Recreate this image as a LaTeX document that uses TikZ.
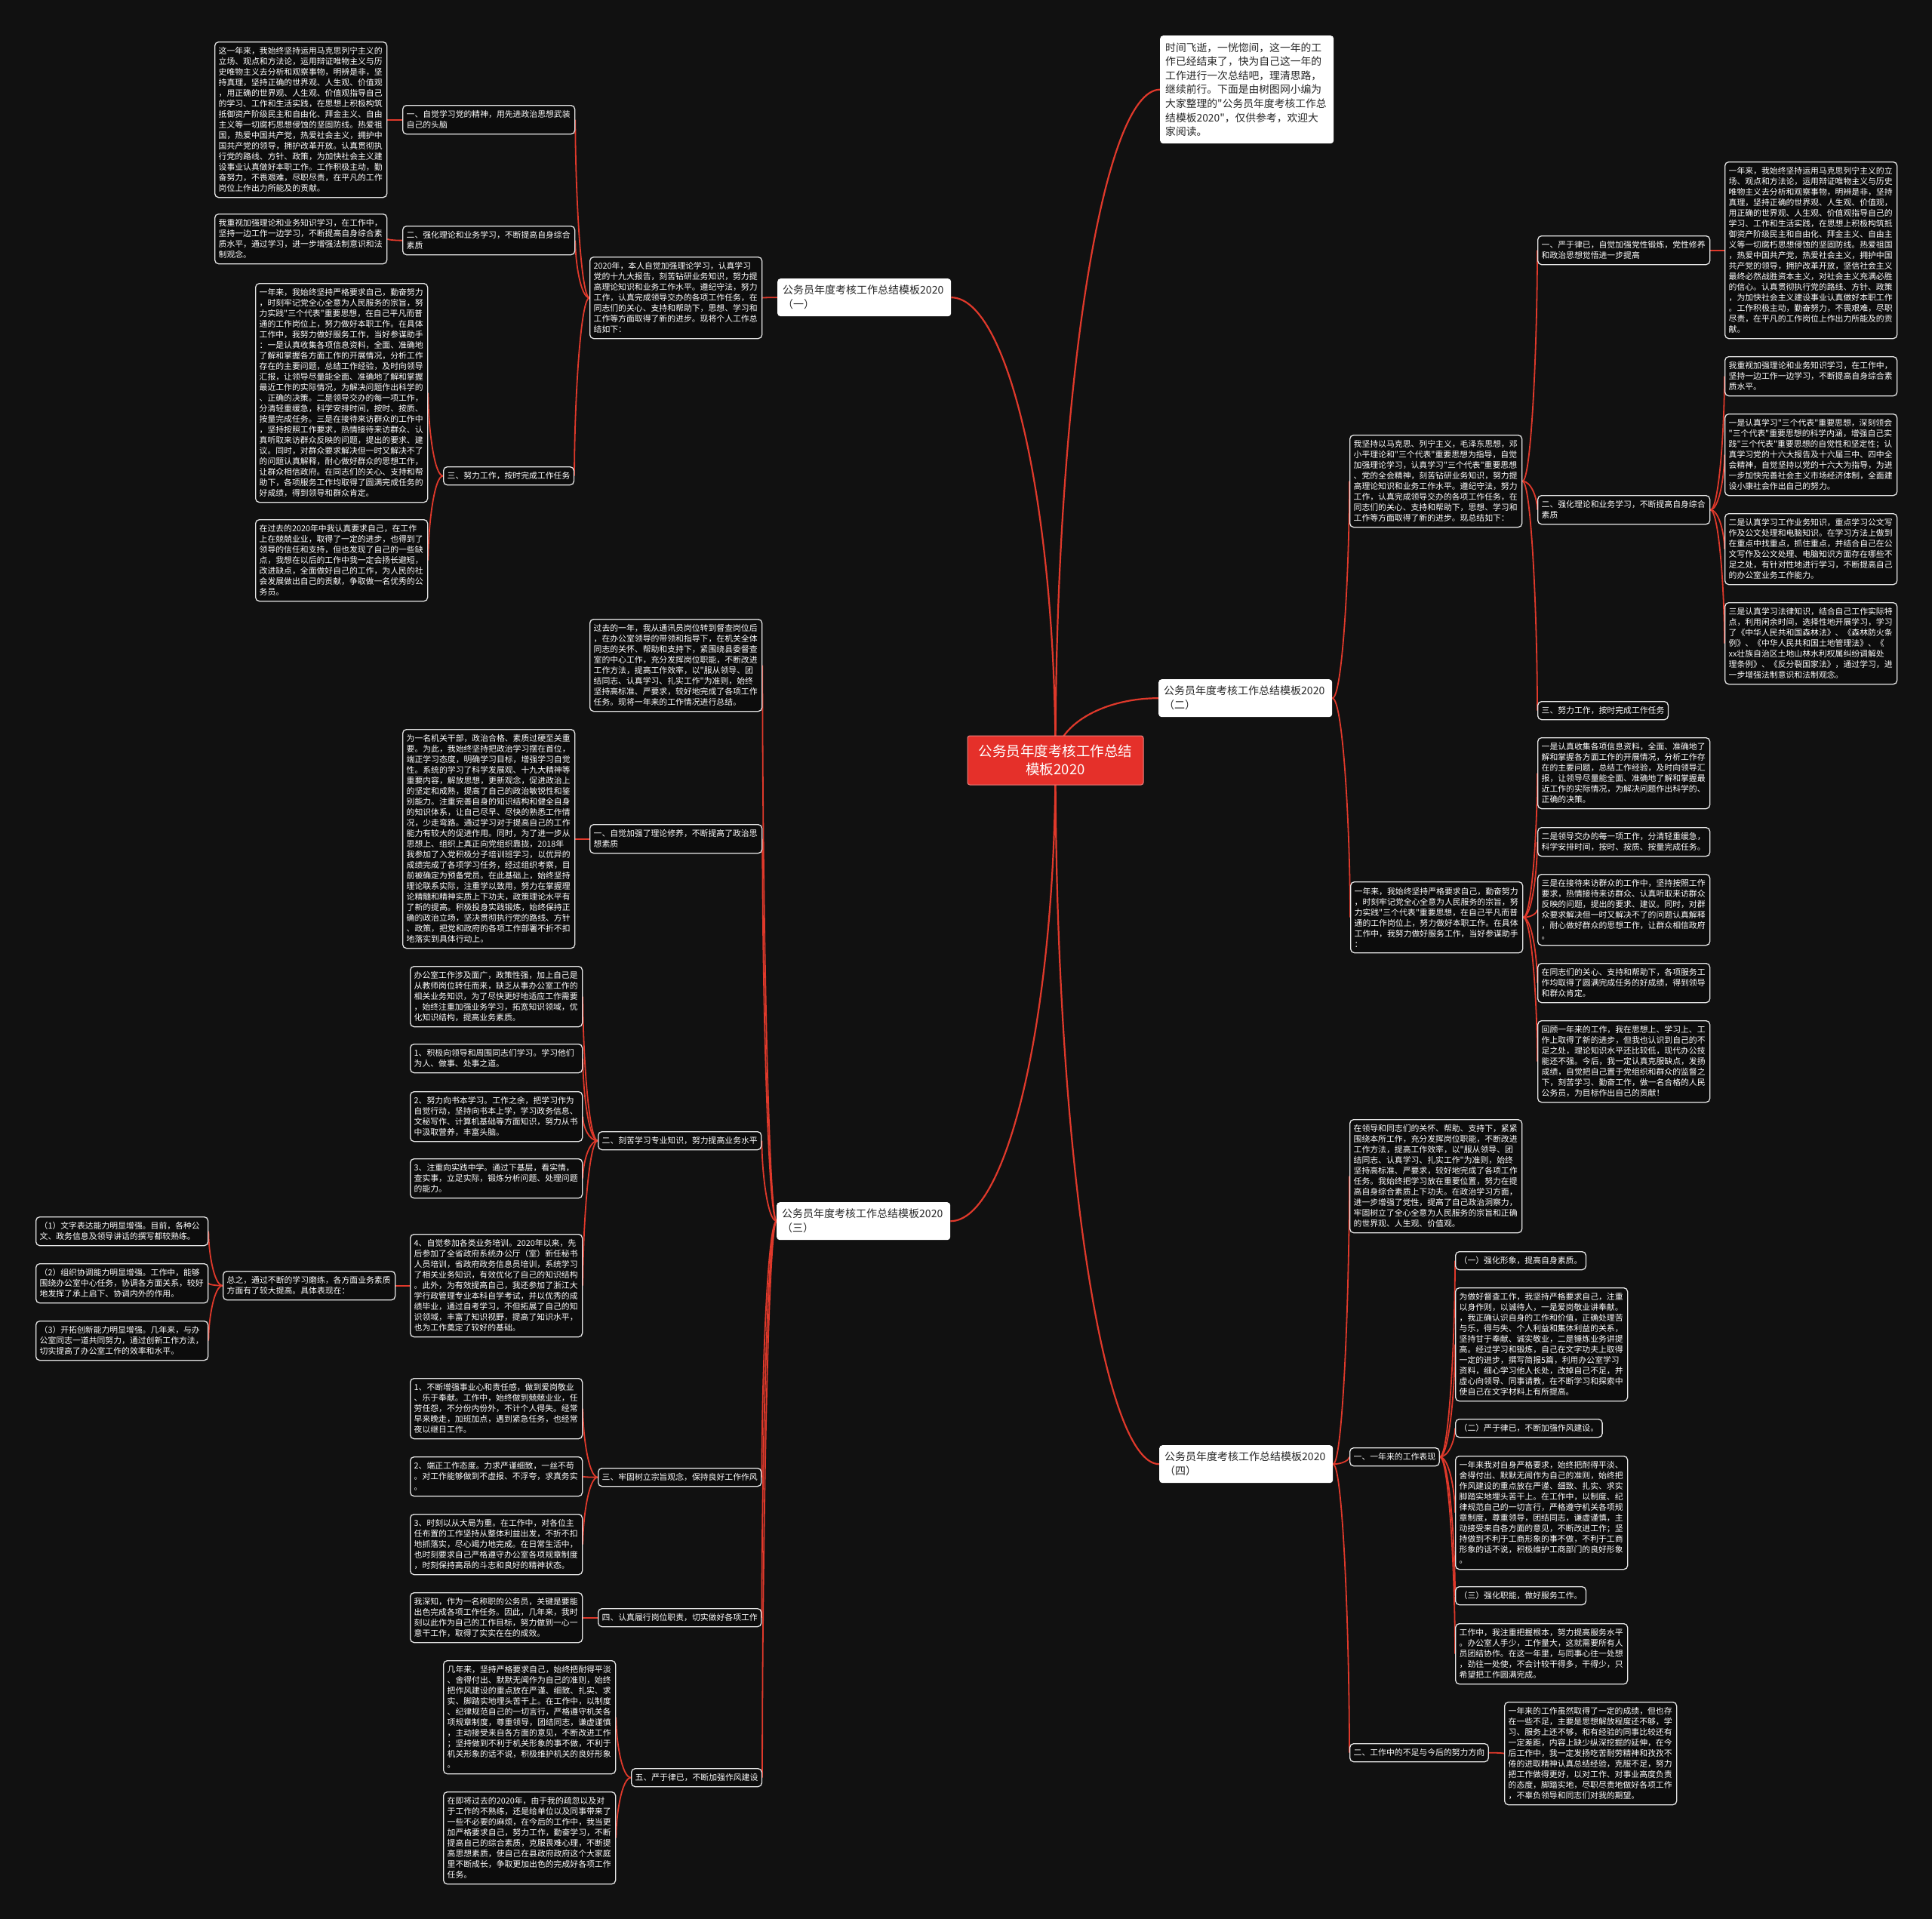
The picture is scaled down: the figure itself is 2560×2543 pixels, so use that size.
\documentclass[tikz,border=0pt]{standalone}
\usepackage{fontspec}
\setmainfont{Noto Sans CJK SC}
\newfontfamily\cjk{Noto Sans CJK SC}
\usetikzlibrary{calc}
\definecolor{bgc}{HTML}{111111}
\definecolor{boxc}{HTML}{0C0C0C}
\definecolor{linec}{HTML}{E0392B}
\definecolor{cent}{HTML}{E5302A}
\pgfdeclarelayer{back}
\pgfsetlayers{back,main}
\tikzset{
 tbox/.style={draw=white!90!black, line width=1.3pt, rounded corners=5pt, fill=boxc, text=white, inner xsep=5pt, inner ysep=3pt, align=left, font=\cjk\fontsize{10.85}{14}\selectfont, anchor=north west},
 wbox/.style={fill=white, rounded corners=4pt, text=black!85, inner xsep=7pt, inner ysep=3pt, align=left, anchor=north west, text width=216pt, minimum height=50pt, font=\cjk\fontsize{14}{19}\selectfont},
 link/.style={draw=linec, line width=1.8pt},
 blink/.style={draw=linec, line width=2.2pt},
}
\newcommand\mkpara[5]{\node[tbox,text width=218pt,minimum height={14*#4+10}] (#1) at (#2,#3) {#5};}
\newcommand\mktitle[4]{\node[tbox,minimum height=24pt] (#1) at (#2,#3) {#4};}
\newcommand\lnk[2]{\draw[link] let \p1=(#1), \p2=(#2) in (\p1) .. controls ({\x1+0.6*(\x2-\x1)},\y1) and (\x2,{\y2+0.4*(\y1-\y2)}) .. (\p2);}
\newcommand\brl[2]{\draw[blink] let \p1=(#1), \p2=(#2) in (\p1) .. controls (\x1,{\y1+0.55*(\y2-\y1)}) and ({\x2+0.55*(\x1-\x2)},\y2) .. (\p2);}
\begin{document}
\begin{tikzpicture}[x=1pt,y=-1pt]
\path[use as bounding box] (0,0) rectangle (2560,2543);
\begin{pgfonlayer}{back}
\fill[bgc] (0,0) rectangle (2560,2543);
\end{pgfonlayer}

% centre and branches
\node[fill=cent, draw=cent!60!white, line width=1pt, rounded corners=3pt, text=white, align=center, minimum width=233pt, minimum height=65pt, inner sep=4pt, font=\cjk\fontsize{18.5}{24.5}\selectfont] (C) at (1398.5,1007.5) {公务员年度考核工作总结\\模板2020};
\node[wbox, minimum height=143pt, font=\cjk\fontsize{13.8}{18.6}\selectfont] (intro) at (1537,47) {时间飞逝，一恍惚间，这一年的工\\作已经结束了，快为自己这一年的\\工作进行一次总结吧，理清思路，\\继续前行。下面是由树图网小编为\\大家整理的"公务员年度考核工作总\\结模板2020"，仅供参考，欢迎大\\家阅读。};
\node[wbox] (B1) at (1030,369) {公务员年度考核工作总结模板2020\\（一）};
\node[wbox] (B2) at (1535,900) {公务员年度考核工作总结模板2020\\（二）};
\node[wbox] (B3) at (1029,1593) {公务员年度考核工作总结模板2020\\（三）};
\node[wbox] (B4) at (1536,1915) {公务员年度考核工作总结模板2020\\（四）};

% ---------- (一)
\mkpara{N0}{781}{340}{7}{2020年，本人自觉加强理论学习，认真学习\\党的十九大报告，刻苦钻研业务知识，努力提\\高理论知识和业务工作水平。遵纪守法，努力\\工作，认真完成领导交办的各项工作任务，在\\同志们的关心、支持和帮助下，思想、学习和\\工作等方面取得了新的进步。现将个人工作总\\结如下：}
\mkpara{N1b}{533}{139}{2}{一、自觉学习党的精神，用先进政治思想武装\\自己的头脑}
\mkpara{N1a}{284}{55}{14}{这一年来，我始终坚持运用马克思列宁主义的\\立场、观点和方法论，运用辩证唯物主义与历\\史唯物主义去分析和观察事物，明辨是非，坚\\持真理，坚持正确的世界观、人生观、价值观\\，用正确的世界观、人生观、价值观指导自己\\的学习、工作和生活实践，在思想上积极构筑\\抵御资产阶级民主和自由化、拜金主义、自由\\主义等一切腐朽思想侵蚀的坚固防线。热爱祖\\国，热爱中国共产党，热爱社会主义，拥护中\\国共产党的领导，拥护改革开放。认真贯彻执\\行党的路线、方针、政策，为加快社会主义建\\设事业认真做好本职工作。工作积极主动，勤\\奋努力，不畏艰难，尽职尽责，在平凡的工作\\岗位上作出力所能及的贡献。}
\mkpara{N2b}{533}{299}{2}{二、强化理论和业务学习，不断提高自身综合\\素质}
\mkpara{N2a}{284}{283}{4}{我重视加强理论和业务知识学习，在工作中，\\坚持一边工作一边学习，不断提高自身综合素\\质水平，通过学习，进一步增强法制意识和法\\制观念。}
\mktitle{N3b}{587}{618}{三、努力工作，按时完成工作任务}
\mkpara{N3a}{338}{375}{20}{一年来，我始终坚持严格要求自己，勤奋努力\\，时刻牢记党全心全意为人民服务的宗旨，努\\力实践"三个代表"重要思想，在自己平凡而普\\通的工作岗位上，努力做好本职工作。在具体\\工作中，我努力做好服务工作，当好参谋助手\\：一是认真收集各项信息资料，全面、准确地\\了解和掌握各方面工作的开展情况，分析工作\\存在的主要问题，总结工作经验，及时向领导\\汇报，让领导尽量能全面、准确地了解和掌握\\最近工作的实际情况，为解决问题作出科学的\\、正确的决策。二是领导交办的每一项工作，\\分清轻重缓急，科学安排时间，按时、按质、\\按量完成任务。三是在接待来访群众的工作中\\，坚持按照工作要求，热情接待来访群众、认\\真听取来访群众反映的问题，提出的要求、建\\议。同时，对群众要求解决但一时又解决不了\\的问题认真解释，耐心做好群众的思想工作，\\让群众相信政府。在同志们的关心、支持和帮\\助下，各项服务工作均取得了圆满完成任务的\\好成绩，得到领导和群众肯定。}
\mkpara{N3c}{338}{688}{7}{在过去的2020年中我认真要求自己，在工作\\上在兢兢业业，取得了一定的进步，也得到了\\领导的信任和支持，但也发现了自己的一些缺\\点，我想在以后的工作中我一定会扬长避短，\\改进缺点，全面做好自己的工作，为人民的社\\会发展做出自己的贡献，争取做一名优秀的公\\务员。}

% ---------- (二)
\mkpara{R0}{1788}{576}{8}{我坚持以马克思、列宁主义，毛泽东思想，邓\\小平理论和"三个代表"重要思想为指导，自觉\\加强理论学习，认真学习"三个代表"重要思想\\、党的全会精神，刻苦钻研业务知识，努力提\\高理论知识和业务工作水平。遵纪守法，努力\\工作，认真完成领导交办的各项工作任务，在\\同志们的关心、支持和帮助下，思想、学习和\\工作等方面取得了新的进步。现总结如下：}
\mkpara{S1}{2037}{312}{2}{一、严于律已，自觉加强党性锻炼，党性修养\\和政治思想觉悟进一步提高}
\mkpara{S2}{2037}{656}{2}{二、强化理论和业务学习，不断提高自身综合\\素质}
\mktitle{S3}{2037}{929}{三、努力工作，按时完成工作任务}
\mkpara{R1}{2285}{214}{16}{一年来，我始终坚持运用马克思列宁主义的立\\场、观点和方法论，运用辩证唯物主义与历史\\唯物主义去分析和观察事物，明辨是非，坚持\\真理，坚持正确的世界观、人生观、价值观，\\用正确的世界观、人生观、价值观指导自己的\\学习、工作和生活实践，在思想上积极构筑抵\\御资产阶级民主和自由化、拜金主义、自由主\\义等一切腐朽思想侵蚀的坚固防线。热爱祖国\\，热爱中国共产党，热爱社会主义，拥护中国\\共产党的领导，拥护改革开放，坚信社会主义\\最终必然战胜资本主义，对社会主义充满必胜\\的信心。认真贯彻执行党的路线、方针、政策\\，为加快社会主义建设事业认真做好本职工作\\。工作积极主动，勤奋努力，不畏艰难，尽职\\尽责，在平凡的工作岗位上作出力所能及的贡\\献。}
\mkpara{R2}{2285}{472}{3}{我重视加强理论和业务知识学习，在工作中，\\坚持一边工作一边学习，不断提高自身综合素\\质水平。}
\mkpara{R3}{2285}{548}{7}{一是认真学习"三个代表"重要思想，深刻领会\\"三个代表"重要思想的科学内涵，增强自己实\\践"三个代表"重要思想的自觉性和坚定性；认\\真学习党的十六大报告及十六届三中、四中全\\会精神，自觉坚持以党的十六大为指导，为进\\一步加快完善社会主义市场经济体制，全面建\\设小康社会作出自己的努力。}
\mkpara{R4}{2285}{680}{6}{二是认真学习工作业务知识，重点学习公文写\\作及公文处理和电脑知识。在学习方法上做到\\在重点中找重点，抓住重点，并结合自己在公\\文写作及公文处理、电脑知识方面存在哪些不\\足之处，有针对性地进行学习，不断提高自己\\的办公室业务工作能力。}
\mkpara{R5}{2285}{798}{7}{三是认真学习法律知识，结合自己工作实际特\\点，利用闲余时间，选择性地开展学习，学习\\了《中华人民共和国森林法》、《森林防火条\\例》、《中华人民共和国土地管理法》、《\\xx壮族自治区土地山林水利权属纠纷调解处\\理条例》、《反分裂国家法》，通过学习，进\\一步增强法制意识和法制观念。}
\mkpara{T0}{1789}{1168}{6}{一年来，我始终坚持严格要求自己，勤奋努力\\，时刻牢记党全心全意为人民服务的宗旨，努\\力实践"三个代表"重要思想，在自己平凡而普\\通的工作岗位上，努力做好本职工作。在具体\\工作中，我努力做好服务工作，当好参谋助手\\：}
\mkpara{U1}{2037}{977}{6}{一是认真收集各项信息资料，全面、准确地了\\解和掌握各方面工作的开展情况，分析工作存\\在的主要问题，总结工作经验，及时向领导汇\\报，让领导尽量能全面、准确地了解和掌握最\\近工作的实际情况，为解决问题作出科学的、\\正确的决策。}
\mkpara{U2}{2037}{1096}{2}{二是领导交办的每一项工作，分清轻重缓急，\\科学安排时间，按时、按质、按量完成任务。}
\mkpara{U3}{2037}{1158}{6}{三是在接待来访群众的工作中，坚持按照工作\\要求，热情接待来访群众、认真听取来访群众\\反映的问题，提出的要求、建议。同时，对群\\众要求解决但一时又解决不了的问题认真解释\\，耐心做好群众的思想工作，让群众相信政府\\。}
\mkpara{U4}{2037}{1276}{3}{在同志们的关心、支持和帮助下，各项服务工\\作均取得了圆满完成任务的好成绩，得到领导\\和群众肯定。}
\mkpara{U5}{2037}{1352}{7}{回顾一年来的工作，我在思想上、学习上、工\\作上取得了新的进步，但我也认识到自己的不\\足之处，理论知识水平还比较低，现代办公技\\能还不强。今后，我一定认真克服缺点，发扬\\成绩，自觉把自己置于党组织和群众的监督之\\下，刻苦学习、勤奋工作，做一名合格的人民\\公务员，为目标作出自己的贡献！}

% ---------- (三)
\mkpara{X0}{781}{820}{8}{过去的一年，我从通讯员岗位转到督查岗位后\\，在办公室领导的带领和指导下，在机关全体\\同志的关怀、帮助和支持下，紧围绕县委督查\\室的中心工作，充分发挥岗位职能，不断改进\\工作方法，提高工作效率，以"服从领导、团\\结同志、认真学习、扎实工作"为准则，始终\\坚持高标准、严要求，较好地完成了各项工作\\任务。现将一年来的工作情况进行总结。}
\mkpara{X1}{781}{1092}{2}{一、自觉加强了理论修养，不断提高了政治思\\想素质}
\mkpara{X1a}{533}{966}{20}{为一名机关干部，政治合格、素质过硬至关重\\要。为此，我始终坚持把政治学习摆在首位，\\端正学习态度，明确学习目标，增强学习自觉\\性。系统的学习了科学发展观、十九大精神等\\重要内容，解放思想，更新观念，促进政治上\\的坚定和成熟，提高了自己的政治敏锐性和鉴\\别能力。注重完善自身的知识结构和健全自身\\的知识体系，让自己尽早、尽快的熟悉工作情\\况，少走弯路。通过学习对于提高自己的工作\\能力有较大的促进作用。同时，为了进一步从\\思想上、组织上真正向党组织靠拢，2018年\\我参加了入党积极分子培训班学习，以优异的\\成绩完成了各项学习任务，经过组织考察，目\\前被确定为预备党员。在此基础上，始终坚持\\理论联系实际，注重学以致用，努力在掌握理\\论精髓和精神实质上下功夫，政策理论水平有\\了新的提高。积极投身实践锻炼，始终保持正\\确的政治立场，坚决贯彻执行党的路线、方针\\、政策，把党和政府的各项工作部署不折不扣\\地落实到具体行动上。}
\mktitle{X2}{792}{1499}{二、刻苦学习专业知识，努力提高业务水平}
\mkpara{X2a}{543}{1280}{5}{办公室工作涉及面广，政策性强，加上自己是\\从教师岗位转任而来，缺乏从事办公室工作的\\相关业务知识，为了尽快更好地适应工作需要\\，始终注重加强业务学习，拓宽知识领域，优\\化知识结构，提高业务素质。}
\mkpara{X2b}{543}{1383}{2}{1、积极向领导和周围同志们学习。学习他们\\为人、做事、处事之道。}
\mkpara{X2c}{543}{1446}{4}{2、努力向书本学习。工作之余，把学习作为\\自觉行动，坚持向书本上学，学习政务信息、\\文秘写作、计算机基础等方面知识，努力从书\\中汲取营养，丰富头脑。}
\mkpara{X2d}{543}{1535}{3}{3、注重向实践中学。通过下基层，看实情，\\查实事，立足实际，锻炼分析问题、处理问题\\的能力。}
\mkpara{X2e}{543}{1635}{9}{4、自觉参加各类业务培训。2020年以来，先\\后参加了全省政府系统办公厅（室）新任秘书\\人员培训，省政府政务信息员培训，系统学习\\了相关业务知识，有效优化了自己的知识结构\\。此外，为有效提高自己，我还参加了浙江大\\学行政管理专业本科自学考试，并以优秀的成\\绩毕业，通过自考学习，不但拓展了自己的知\\识领域，丰富了知识视野，提高了知识水平，\\也为工作奠定了较好的基础。}
\mkpara{X2f}{295}{1684}{2}{总之，通过不断的学习磨练，各方面业务素质\\方面有了较大提高。具体表现在：}
\mkpara{Y1}{47}{1612}{2}{（1）文字表达能力明显增强。目前，各种公\\文、政务信息及领导讲话的撰写都较熟练。}
\mkpara{Y2}{47}{1674}{3}{（2）组织协调能力明显增强。工作中，能够\\围绕办公室中心任务，协调各方面关系，较好\\地发挥了承上启下、协调内外的作用。}
\mkpara{Y3}{47}{1750}{3}{（3）开拓创新能力明显增强。几年来，与办\\公室同志一道共同努力，通过创新工作方法，\\切实提高了办公室工作的效率和水平。}
\mktitle{X3}{792}{1945}{三、牢固树立宗旨观念，保持良好工作作风}
\mkpara{X3a}{543}{1826}{5}{1、不断增强事业心和责任感，做到爱岗敬业\\、乐于奉献。工作中，始终做到兢兢业业，任\\劳任怨，不分份内份外，不计个人得失。经常\\早来晚走，加班加点，遇到紧急任务，也经常\\夜以继日工作。}
\mkpara{X3b}{543}{1930}{3}{2、端正工作态度。力求严谨细致，一丝不苟\\。对工作能够做到不虚报、不浮夸，求真务实\\。}
\mkpara{X3c}{543}{2006}{5}{3、时刻以从大局为重。在工作中，对各位主\\任布置的工作坚持从整体利益出发，不折不扣\\地抓落实，尽心竭力地完成。在日常生活中，\\也时刻要求自己严格遵守办公室各项规章制度\\，时刻保持高昂的斗志和良好的精神状态。}
\mktitle{X4}{792}{2131}{四、认真履行岗位职责，切实做好各项工作}
\mkpara{X4a}{543}{2110}{4}{我深知，作为一名称职的公务员，关键是要能\\出色完成各项工作任务。因此，几年来，我时\\刻以此作为自己的工作目标，努力做到一心一\\意干工作，取得了实实在在的成效。}
\mktitle{X5}{836}{2343}{五、严于律已，不断加强作风建设}
\mkpara{X5a}{587}{2200}{10}{几年来，坚持严格要求自己，始终把耐得平淡\\、舍得付出、默默无闻作为自己的准则，始终\\把作风建设的重点放在严谨、细致、扎实、求\\实、脚踏实地埋头苦干上。在工作中，以制度\\、纪律规范自己的一切言行，严格遵守机关各\\项规章制度，尊重领导，团结同志，谦虚谨慎\\，主动接受来自各方面的意见，不断改进工作\\；坚持做到不利于机关形象的事不做，不利于\\机关形象的话不说，积极维护机关的良好形象\\。}
\mkpara{X5b}{587}{2374}{8}{在即将过去的2020年，由于我的疏忽以及对\\于工作的不熟练，还是给单位以及同事带来了\\一些不必要的麻烦，在今后的工作中，我当更\\加严格要求自己，努力工作，勤奋学习，不断\\提高自己的综合素质，克服畏难心理，不断提\\高思想素质，使自己在县政府政府这个大家庭\\里不断成长，争取更加出色的完成好各项工作\\任务。}

% ---------- (四)
\mkpara{V0}{1788}{1483}{10}{在领导和同志们的关怀、帮助、支持下，紧紧\\围绕本所工作，充分发挥岗位职能，不断改进\\工作方法，提高工作效率，以"服从领导、团\\结同志、认真学习、扎实工作"为准则，始终\\坚持高标准、严要求，较好地完成了各项工作\\任务。我始终把学习放在重要位置，努力在提\\高自身综合素质上下功夫。在政治学习方面，\\进一步增强了党性，提高了自己政治洞察力，\\牢固树立了全心全意为人民服务的宗旨和正确\\的世界观、人生观、价值观。}
\mktitle{V1}{1788}{1918}{一、一年来的工作表现}
\mktitle{V2}{1788}{2310}{二、工作中的不足与今后的努力方向}
\mkpara{V2a}{1993}{2255}{9}{一年来的工作虽然取得了一定的成绩，但也存\\在一些不足，主要是思想解放程度还不够，学\\习、服务上还不够，和有经验的同事比较还有\\一定差距，内容上缺少纵深挖掘的延伸，在今\\后工作中，我一定发扬吃苦耐劳精神和孜孜不\\倦的进取精神认真总结经验，克服不足，努力\\把工作做得更好，以对工作、对事业高度负责\\的态度，脚踏实地，尽职尽责地做好各项工作\\，不辜负领导和同志们对我的期望。}
\mktitle{W1}{1928}{1658}{（一）强化形象，提高自身素质。}
\mkpara{W2}{1928}{1706}{10}{为做好督查工作，我坚持严格要求自己，注重\\以身作则，以诚待人，一是爱岗敬业讲奉献。\\，我正确认识自身的工作和价值，正确处理苦\\与乐，得与失、个人利益和集体利益的关系，\\坚持甘于奉献、诚实敬业，二是锤炼业务讲提\\高。经过学习和锻炼，自己在文字功夫上取得\\一定的进步，撰写简报5篇，利用办公室学习\\资料，细心学习他人长处，改掉自己不足，并\\虚心向领导、同事请教，在不断学习和探索中\\使自己在文字材料上有所提高。}
\mktitle{W3}{1928}{1880}{（二）严于律已，不断加强作风建设。}
\mkpara{W4}{1928}{1929}{10}{一年来我对自身严格要求，始终把耐得平淡、\\舍得付出、默默无闻作为自己的准则，始终把\\作风建设的重点放在严谨、细致、扎实、求实\\脚踏实地埋头苦干上。在工作中，以制度、纪\\律规范自己的一切言行，严格遵守机关各项规\\章制度，尊重领导，团结同志，谦虚谨慎，主\\动接受来自各方面的意见，不断改进工作；坚\\持做到不利于工商形象的事不做，不利于工商\\形象的话不说，积极维护工商部门的良好形象\\。}
\mktitle{W5}{1928}{2102}{（三）强化职能，做好服务工作。}
\mkpara{W6}{1928}{2151}{5}{工作中，我注重把握根本，努力提高服务水平\\。办公室人手少，工作量大，这就需要所有人\\员团结协作。在这一年里，与同事心往一处想\\，劲往一处使，不会计较干得多，干得少，只\\希望把工作圆满完成。}

% ---------- connectors
\begin{pgfonlayer}{back}
\brl{C.center}{intro.west}
\brl{C.center}{B1.east}
\brl{C.center}{B2.west}
\brl{C.center}{B3.east}
\brl{C.center}{B4.west}
\lnk{B1.west}{N0.east}
\lnk{N0.west}{N1b.east}
\lnk{N0.west}{N2b.east}
\lnk{N0.west}{N3b.east}
\lnk{N1b.west}{N1a.east}
\lnk{N2b.west}{N2a.east}
\lnk{N3b.west}{N3a.east}
\lnk{N3b.west}{N3c.east}
\lnk{B2.east}{R0.west}
\lnk{B2.east}{T0.west}
\lnk{R0.east}{S1.west}
\lnk{R0.east}{S2.west}
\lnk{R0.east}{S3.west}
\lnk{S1.east}{R1.west}
\lnk{S2.east}{R2.west}
\lnk{S2.east}{R3.west}
\lnk{S2.east}{R4.west}
\lnk{S2.east}{R5.west}
\lnk{T0.east}{U1.west}
\lnk{T0.east}{U2.west}
\lnk{T0.east}{U3.west}
\lnk{T0.east}{U4.west}
\lnk{T0.east}{U5.west}
\lnk{B3.west}{X0.east}
\lnk{B3.west}{X1.east}
\lnk{B3.west}{X2.east}
\lnk{B3.west}{X3.east}
\lnk{B3.west}{X4.east}
\lnk{B3.west}{X5.east}
\lnk{X1.west}{X1a.east}
\lnk{X2.west}{X2a.east}
\lnk{X2.west}{X2b.east}
\lnk{X2.west}{X2c.east}
\lnk{X2.west}{X2d.east}
\lnk{X2.west}{X2e.east}
\lnk{X2e.west}{X2f.east}
\lnk{X2f.west}{Y1.east}
\lnk{X2f.west}{Y2.east}
\lnk{X2f.west}{Y3.east}
\lnk{X3.west}{X3a.east}
\lnk{X3.west}{X3b.east}
\lnk{X3.west}{X3c.east}
\lnk{X4.west}{X4a.east}
\lnk{X5.west}{X5a.east}
\lnk{X5.west}{X5b.east}
\lnk{B4.east}{V0.west}
\lnk{B4.east}{V1.west}
\lnk{B4.east}{V2.west}
\lnk{V1.east}{W1.west}
\lnk{V1.east}{W2.west}
\lnk{V1.east}{W3.west}
\lnk{V1.east}{W4.west}
\lnk{V1.east}{W5.west}
\lnk{V1.east}{W6.west}
\lnk{V2.east}{V2a.west}
\end{pgfonlayer}
\end{tikzpicture}
\end{document}
